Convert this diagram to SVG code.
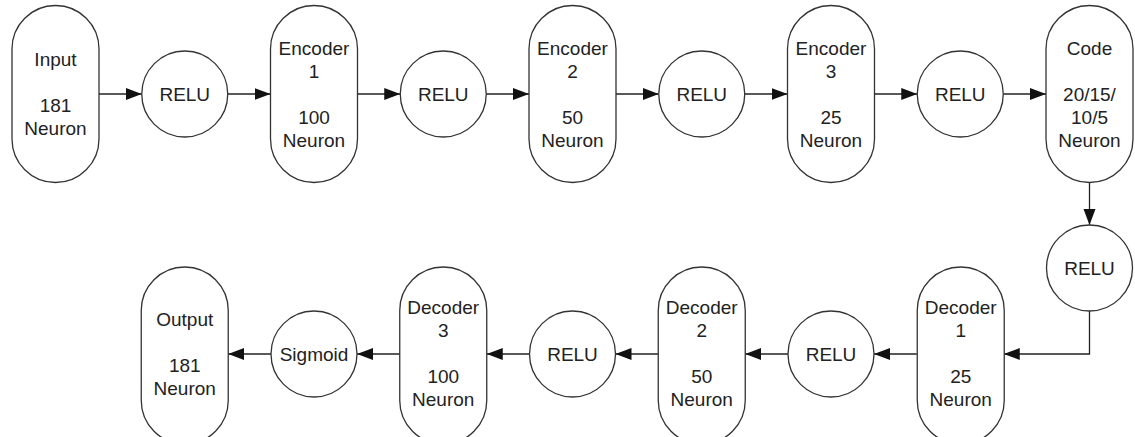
<svg xmlns="http://www.w3.org/2000/svg" width="1135" height="437" viewBox="0 0 1135 437">
<defs>
<style>
.pill,.circ{fill:#fff;stroke:#333;stroke-width:1.3}
.edge{fill:none;stroke:#222;stroke-width:1.3}
text{font-family:"Liberation Sans",Arial,sans-serif;font-size:19px;fill:#222;text-anchor:middle}
</style>
<marker id="arr" markerUnits="userSpaceOnUse" markerWidth="17" markerHeight="13" refX="16" refY="6" orient="auto">
<path d="M0,0 L16,6 L0,12 z" fill="#111"/>
</marker>
</defs>
<rect width="1135" height="437" fill="#fff"/>
<g id="connectors">
<line class="edge" x1="99" y1="94" x2="141.75" y2="94" marker-end="url(#arr)"/>
<line class="edge" x1="227.75" y1="94" x2="270.5" y2="94" marker-end="url(#arr)"/>
<line class="edge" x1="357.5" y1="94" x2="400.25" y2="94" marker-end="url(#arr)"/>
<line class="edge" x1="486.25" y1="94" x2="529" y2="94" marker-end="url(#arr)"/>
<line class="edge" x1="616" y1="94" x2="658.75" y2="94" marker-end="url(#arr)"/>
<line class="edge" x1="744.75" y1="94" x2="787.5" y2="94" marker-end="url(#arr)"/>
<line class="edge" x1="874.5" y1="94" x2="917.25" y2="94" marker-end="url(#arr)"/>
<line class="edge" x1="1003.25" y1="94" x2="1046" y2="94" marker-end="url(#arr)"/>
<line class="edge" x1="1089.5" y1="182.5" x2="1089.5" y2="225" marker-end="url(#arr)"/>
<path class="edge" d="M1089.5,311 V354 H1003.75" marker-end="url(#arr)"/>
<line class="edge" x1="916.75" y1="354" x2="874" y2="354" marker-end="url(#arr)"/>
<line class="edge" x1="788" y1="354" x2="745.25" y2="354" marker-end="url(#arr)"/>
<line class="edge" x1="658.25" y1="354" x2="615.5" y2="354" marker-end="url(#arr)"/>
<line class="edge" x1="529.5" y1="354" x2="486.75" y2="354" marker-end="url(#arr)"/>
<line class="edge" x1="399.75" y1="354" x2="357" y2="354" marker-end="url(#arr)"/>
<line class="edge" x1="271" y1="354" x2="228.25" y2="354" marker-end="url(#arr)"/>
</g>
<g id="input">
<rect class="pill" x="12" y="5.5" width="87" height="177" rx="43.5" ry="43.5"/>
<text x="55.5" y="66">Input</text>
<text x="55.5" y="112">181</text>
<text x="55.5" y="135">Neuron</text>
</g>
<g id="relu1">
<circle class="circ" cx="184.75" cy="94" r="43"/>
<text x="184.75" y="101">RELU</text>
</g>
<g id="encoder1">
<rect class="pill" x="270.5" y="5.5" width="87" height="177" rx="43.5" ry="43.5"/>
<text x="314" y="55">Encoder</text>
<text x="314" y="78">1</text>
<text x="314" y="124">100</text>
<text x="314" y="147">Neuron</text>
</g>
<g id="relu2">
<circle class="circ" cx="443.25" cy="94" r="43"/>
<text x="443.25" y="101">RELU</text>
</g>
<g id="encoder2">
<rect class="pill" x="529" y="5.5" width="87" height="177" rx="43.5" ry="43.5"/>
<text x="572.5" y="55">Encoder</text>
<text x="572.5" y="78">2</text>
<text x="572.5" y="124">50</text>
<text x="572.5" y="147">Neuron</text>
</g>
<g id="relu3">
<circle class="circ" cx="701.75" cy="94" r="43"/>
<text x="701.75" y="101">RELU</text>
</g>
<g id="encoder3">
<rect class="pill" x="787.5" y="5.5" width="87" height="177" rx="43.5" ry="43.5"/>
<text x="831" y="55">Encoder</text>
<text x="831" y="78">3</text>
<text x="831" y="124">25</text>
<text x="831" y="147">Neuron</text>
</g>
<g id="relu4">
<circle class="circ" cx="960.25" cy="94" r="43"/>
<text x="960.25" y="101">RELU</text>
</g>
<g id="code">
<rect class="pill" x="1046" y="5.5" width="87" height="177" rx="43.5" ry="43.5"/>
<text x="1089.5" y="55">Code</text>
<text x="1089.5" y="101">20/15/</text>
<text x="1089.5" y="124">10/5</text>
<text x="1089.5" y="147">Neuron</text>
</g>
<g id="relu5">
<circle class="circ" cx="1089.5" cy="268" r="43"/>
<text x="1089.5" y="275">RELU</text>
</g>
<g id="decoder1">
<rect class="pill" x="917.25" y="267" width="87" height="177" rx="43.5" ry="43.5"/>
<text x="960.75" y="314">Decoder</text>
<text x="960.75" y="337">1</text>
<text x="960.75" y="383">25</text>
<text x="960.75" y="406">Neuron</text>
</g>
<g id="relu6">
<circle class="circ" cx="831" cy="354" r="43"/>
<text x="831" y="361">RELU</text>
</g>
<g id="decoder2">
<rect class="pill" x="658.25" y="267" width="87" height="177" rx="43.5" ry="43.5"/>
<text x="701.75" y="314">Decoder</text>
<text x="701.75" y="337">2</text>
<text x="701.75" y="383">50</text>
<text x="701.75" y="406">Neuron</text>
</g>
<g id="relu7">
<circle class="circ" cx="572.5" cy="354" r="43"/>
<text x="572.5" y="361">RELU</text>
</g>
<g id="decoder3">
<rect class="pill" x="399.75" y="267" width="87" height="177" rx="43.5" ry="43.5"/>
<text x="443.25" y="314">Decoder</text>
<text x="443.25" y="337">3</text>
<text x="443.25" y="383">100</text>
<text x="443.25" y="406">Neuron</text>
</g>
<g id="sigmoid">
<circle class="circ" cx="314" cy="354" r="43"/>
<text x="314" y="361">Sigmoid</text>
</g>
<g id="output">
<rect class="pill" x="141.25" y="267" width="87" height="177" rx="43.5" ry="43.5"/>
<text x="184.75" y="325.5">Output</text>
<text x="184.75" y="371.5">181</text>
<text x="184.75" y="394.5">Neuron</text>
</g>
</svg>
